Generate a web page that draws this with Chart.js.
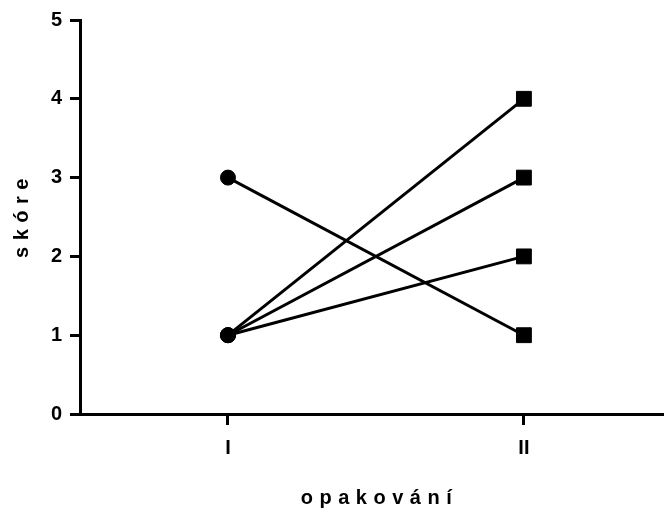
<!DOCTYPE html>
<html>
<head>
<meta charset="utf-8">
<script src="https://cdn.jsdelivr.net/npm/chart.js@4/dist/chart.umd.min.js"></script>
<style>
  html, body { margin: 0; padding: 0; background: #fff; overflow: hidden; }
  #wrap { width: 665px; height: 520px; }
  canvas { display: block; }
</style>
</head>
<body>
<div id="wrap"><canvas id="c" width="665" height="520"></canvas></div>
<script>
// Repetitions and scores per subject
const categories = ['I', 'II'];
const subject1 = [3, 1];
const subject2 = [1, 4];
const subject3 = [1, 3];
const subject4 = [1, 2];
const yTicks = [0, 1, 2, 3, 4, 5];
const xTitle = 'opakování';
const yTitle = 'skóre';

const FONT = '"Liberation Sans", Arial, sans-serif';

function toPoints(values) {
  return values.map((v, i) => ({ x: i + 1, y: v }));
}

function makeSet(values) {
  return {
    data: toPoints(values),
    borderColor: '#000',
    backgroundColor: '#000',
    borderWidth: 3,
    pointStyle: ['circle', 'rect'],
    pointRadius: [7.5, 10.5],
    pointBorderWidth: 1,
    pointHoverRadius: [7.5, 10.5],
    tension: 0
  };
}

// Axis titles drawn with letter spacing
const spacedTitles = {
  id: 'spacedTitles',
  afterDraw(chart) {
    const { ctx, chartArea } = chart;
    ctx.save();
    ctx.fillStyle = '#000';
    ctx.font = 'bold 20px ' + FONT;
    ctx.textAlign = 'center';
    ctx.textBaseline = 'middle';
    if ('letterSpacing' in ctx) ctx.letterSpacing = '6.5px';
    const cx = (chartArea.left + chartArea.right) / 2 + 8;
    ctx.fillText(xTitle, cx, 498);
    ctx.translate(22, (chartArea.top + chartArea.bottom) / 2 - 2);
    ctx.rotate(-Math.PI / 2);
    ctx.fillText(yTitle, 0, 0);
    ctx.restore();
  }
};

new Chart(document.getElementById('c'), {
  type: 'line',
  data: {
    datasets: [makeSet(subject1), makeSet(subject2), makeSet(subject3), makeSet(subject4)]
  },
  options: {
    responsive: false,
    animation: false,
    devicePixelRatio: 1,
    layout: { autoPadding: false, padding: { top: 18, right: 2, left: 0, bottom: 0 } },
    plugins: { legend: { display: false }, tooltip: { enabled: false } },
    scales: {
      x: {
        type: 'linear',
        min: 0.5,
        max: 2.47,
        afterBuildTicks(scale) {
          scale.ticks = categories.map((c, i) => ({ value: i + 1 }));
        },
        afterFit(scale) {
          scale.height = 106;
          scale.paddingLeft = 0;
          scale.paddingRight = 0;
        },
        ticks: {
          callback: (v) => categories[Math.round(v) - 1] ?? '',
          color: '#000',
          font: { family: FONT, size: 20, weight: 'bold' },
          padding: 11,
          maxRotation: 0
        },
        grid: {
          drawOnChartArea: false,
          drawTicks: true,
          tickLength: 11,
          tickWidth: 3,
          tickColor: '#000'
        },
        border: { display: true, color: '#000', width: 3 }
      },
      y: {
        min: 0,
        max: 5,
        afterBuildTicks(scale) {
          scale.ticks = yTicks.map(v => ({ value: v }));
        },
        afterFit(scale) { scale.width = 80; },
        ticks: {
          color: '#000',
          font: { family: FONT, size: 20, weight: 'bold' },
          padding: 8
        },
        grid: {
          drawOnChartArea: false,
          drawTicks: true,
          tickLength: 10,
          tickWidth: 3,
          tickColor: '#000'
        },
        border: { display: true, color: '#000', width: 3 }
      }
    }
  },
  plugins: [spacedTitles]
});
</script>
</body>
</html>
